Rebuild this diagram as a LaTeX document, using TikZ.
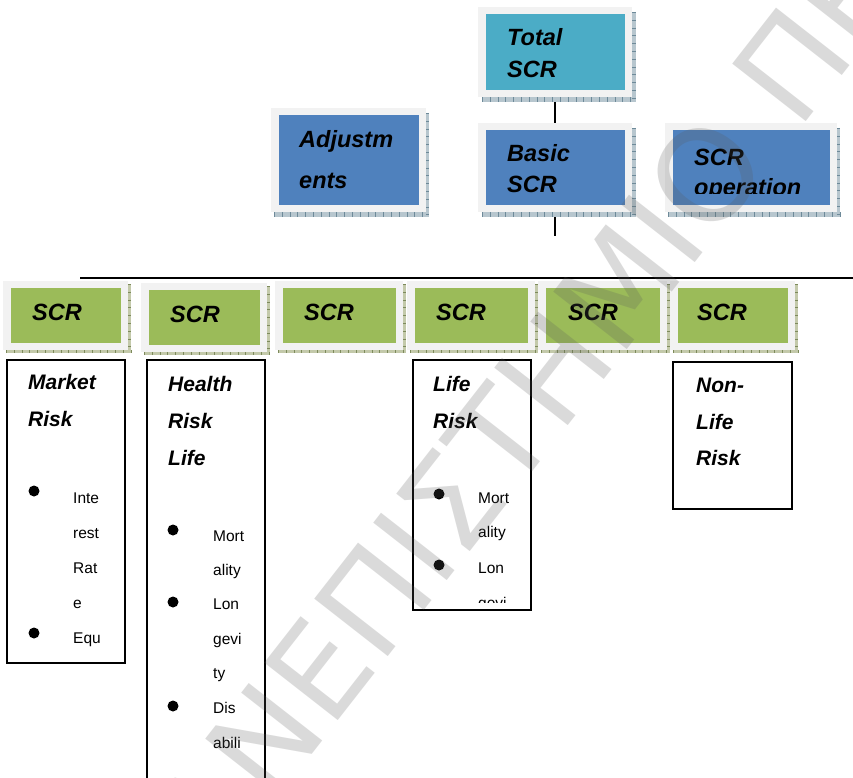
\documentclass[tikz,border=0pt]{standalone}
\usepackage{fontspec}
\setmainfont{Liberation Sans}
\newfontfamily\wmfont{DejaVu Sans}
\usetikzlibrary{fit,backgrounds}
\definecolor{cTeal}{HTML}{4BACC6}
\definecolor{cBlue}{HTML}{4F81BD}
\definecolor{cGreen}{HTML}{9BBB59}
\definecolor{cFrame}{HTML}{F2F2F2}
\definecolor{cBlueSh}{HTML}{B7C6CE}
\definecolor{cBlueTk}{HTML}{6E8A99}
\definecolor{cGreenSh}{HTML}{C3C9AA}
\definecolor{cGreenTk}{HTML}{7D8A5C}
\definecolor{cWater}{HTML}{595959}
\newcommand{\mypanel}[6]{%
  \node[frame, fit={(#2,#3) (#4,#5)}] (#1) {};
  \node[fill=#6, inner sep=0, outer sep=0, fit={([shift={(8,7)}]#1.north west) ([shift={(-7,-7)}]#1.south east)}] (#1in) {};
}
\newcommand{\myshadow}[4]{%
  \fill[#4Sh] ([shift={(#2,#3)}]#1.north west) rectangle ([shift={(#2,#3)}]#1.south east);
  \draw[#4Tk, line width=#3pt, dash pattern=on 0.8pt off 7pt] ([shift={(#2,#3/2)}]#1.south west) -- ([shift={(#2,#3/2)}]#1.south east);
  \draw[#4Tk, line width=#2pt, dash pattern=on 0.8pt off 7pt] ([shift={(#2/2,#3)}]#1.north east) -- ([shift={(#2/2,#3)}]#1.south east);
}
\begin{document}
\begin{tikzpicture}[x=1pt,y=-1pt,
  frame/.style={fill=cFrame, draw=none, inner sep=0, outer sep=0},
  hd/.style={font=\fontsize{23.5}{23.5}\selectfont\bfseries\itshape, anchor=base west, inner sep=0},
  sub/.style={font=\fontsize{21}{21}\selectfont\bfseries\itshape, anchor=base west, inner sep=0},
  item/.style={font=\fontsize{15.5}{15.5}\selectfont, anchor=base west, inner sep=0},
  bul/.style={circle, fill=black, inner sep=0, minimum size=11},
  wbox/.style={draw=black, line width=1.6, fill=white, inner sep=0, outer sep=0},
  conn/.style={draw=black, line width=2},
  water/.style={font=\fontsize{128}{128}\selectfont\wmfont, text=cWater, opacity=0.22, anchor=base west, inner sep=0, rotate=52}]
\useasboundingbox (0,0) rectangle (853,778);
\begin{pgfonlayer}{background}
  \fill[white] (0,0) rectangle (853,778);
\end{pgfonlayer}

% top panels
\mypanel{total}{478}{7}{632}{97}{cTeal}
\mypanel{basic}{478}{123}{632}{212}{cBlue}
\mypanel{adj}{271}{108}{426}{212}{cBlue}
\mypanel{oper}{665}{123}{837}{212}{cBlue}
% green panels
\mypanel{g1}{3}{281}{128}{350}{cGreen}
\mypanel{g2}{141}{283}{267}{352}{cGreen}
\mypanel{g3}{275}{281}{403}{350}{cGreen}
\mypanel{g4}{407}{281}{535}{350}{cGreen}
\mypanel{g5}{538}{281}{667}{350}{cGreen}
\mypanel{g6}{670}{281}{795}{350}{cGreen}

% connectors
\coordinate (bdown) at (555,236);
\coordinate (hl) at (80,278);
\coordinate (hr) at (853,278);
\begin{pgfonlayer}{background}
  \draw[conn] (total.south) -- (basic.north);
  \draw[conn] (basic.south) -- (bdown);
  \myshadow{total}{4}{5}{cBlue}
  \myshadow{basic}{4}{5}{cBlue}
  \myshadow{adj}{3}{5}{cBlue}
  \myshadow{oper}{3}{5}{cBlue}
  \myshadow{g1}{3}{3}{cGreen}
  \myshadow{g2}{3}{3}{cGreen}
  \myshadow{g3}{3}{3}{cGreen}
  \myshadow{g4}{3}{3}{cGreen}
  \myshadow{g5}{3}{3}{cGreen}
  \myshadow{g6}{3}{3}{cGreen}
\end{pgfonlayer}
\draw[conn] (hl) -- (hr);

% top texts
\node[hd] (t1) at (507,46) {Total};
\node[hd] (t2) at (507,78) {SCR};
\node[hd] (b1) at (507,161) {Basic};
\node[hd] (b2) at (507,193) {SCR};
\node[hd] (a1) at (299,148) {Adjustm};
\node[hd] (a2) at (299,189) {ents};
\node[hd] (o1) at (694,165) {SCR};
\begin{scope}
  \clip (673,131) rectangle (829,193);
  \node[hd] (o2) at (694,195) {operation};
\end{scope}

% green texts
\node[hd] (s1) at (32,320) {SCR};
\node[hd] (s2) at (170,322) {SCR};
\node[hd] (s3) at (304,320) {SCR};
\node[hd] (s4) at (436,320) {SCR};
\node[hd] (s5) at (568,320) {SCR};
\node[hd] (s6) at (697,320) {SCR};

% white boxes
\node[wbox, fit={(7,360) (125,663)}] (market) {};
\node[wbox, fit={(147,360) (265,800)}] (health) {};
\node[wbox, fit={(413,360) (531,610)}] (life) {};
\node[wbox, fit={(673,362) (792,509)}] (nonlife) {};

% market risk
\node[sub] (m1) at (28,389) {Market};
\node[sub] (m2) at (28,426) {Risk};
\node[bul] (mb1) at (34,491) {};
\node[bul] (mb2) at (34,633) {};
\node[item] (mi1) at (73,503) {Inte};
\node[item] (mi2) at (73,538) {rest};
\node[item] (mi3) at (73,573) {Rat};
\node[item] (mi4) at (73,608) {e};
\node[item] (mi5) at (73,643) {Equ};

% health risk life
\node[sub] (h1) at (168,391) {Health};
\node[sub] (h2) at (168,428) {Risk};
\node[sub] (h3) at (168,465) {Life};
\node[bul] (hb1) at (173,530) {};
\node[bul] (hb2) at (173,602) {};
\node[bul] (hb3) at (173,706) {};
\node[item] (hi1) at (213,541) {Mort};
\node[item] (hi2) at (213,575) {ality};
\node[item] (hi3) at (213,609) {Lon};
\node[item] (hi4) at (213,644) {gevi};
\node[item] (hi5) at (213,678) {ty};
\node[item] (hi6) at (213,713) {Dis};
\node[item] (hi7) at (213,748) {abili};

% life risk
\node[sub] (l1) at (433,391) {Life};
\node[sub] (l2) at (433,428) {Risk};
\node[bul] (lb1) at (439,494) {};
\node[bul] (lb2) at (439,565) {};
\node[item] (li1) at (478,503) {Mort};
\node[item] (li2) at (478,537) {ality};
\node[item] (li3) at (478,573) {Lon};
\begin{scope}
  \clip (413,360) rectangle (531,602);
  \node[item] (li4) at (478,608) {gevi};
\end{scope}

% non-life risk
\node[sub] (n1) at (696,392) {Non-};
\node[sub] (n2) at (696,429) {Life};
\node[sub] (n3) at (696,465) {Risk};

% watermark
\node[water] (wm) at (158,951) {ΠΑΝΕΠΙΣΤΗΜΙΟ ΠΕΙΡΑΙΩΣ};
\end{tikzpicture}
\end{document}
